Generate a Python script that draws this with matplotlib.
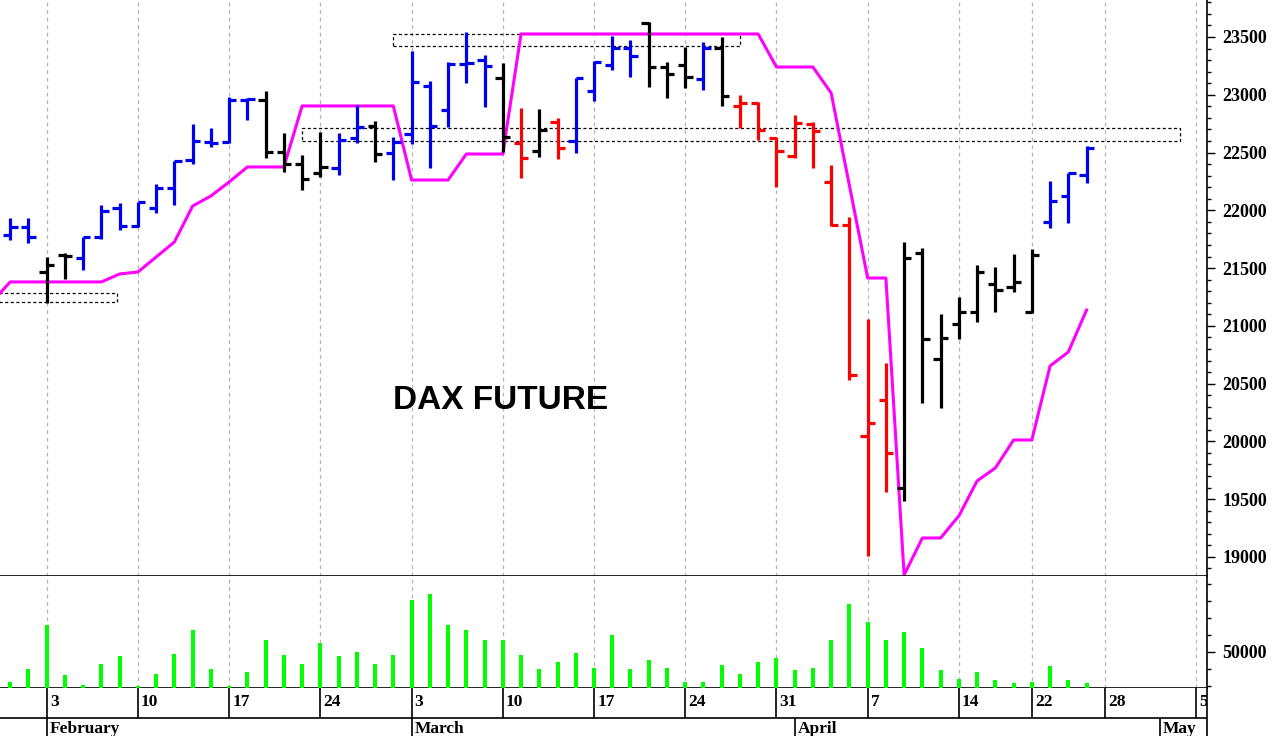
import matplotlib
matplotlib.use('Agg')
import matplotlib.pyplot as plt
from matplotlib.patches import Rectangle
from matplotlib.ticker import MultipleLocator, FixedLocator, FuncFormatter
import numpy as np

# daily bars, Jan 30 .. Apr 25 (trading days only)
opens = [21787, 21856, 21466, 21613, 21587, 21769, 22020, 21864, 22020, 22193,
         22436, 22591, 22591, 22955, 22955, 22505, 22401, 22323, 22366, 22626,
         22730, 22496, 22661, 23076, 22868, 23266, 23301, 23145, 22583, 22513,
         22764, 22600, 23033, 23258, 23405, 23621, 23240, 23258, 23137, 23405,
         22903, 22929, 22626, 22470, 22747, 22245, 21873, 20047, 20359, 19597,
         21631, 20713, 21016, 21120, 21362, 21337, 21120, 21899, 22124, 22306]
highs = [21934, 21934, 21596, 21631, 21769, 22046, 22063, 22072, 22228, 22427,
         22747, 22712, 22981, 22972, 23033, 22669, 22479, 22678, 22669, 22912,
         22773, 22635, 23379, 23119, 23284, 23543, 23344, 23275, 22886, 22877,
         22799, 23145, 23292, 23509, 23474, 23630, 23284, 23413, 23457, 23500,
         22998, 22937, 22635, 22825, 22764, 22392, 21942, 21060, 20679, 21726,
         21674, 21103, 21250, 21527, 21510, 21622, 21665, 22254, 22323, 22557]
lows = [21743, 21717, 21198, 21406, 21484, 21752, 21830, 21856, 21977, 22046,
        22401, 22548, 22583, 22782, 22453, 22332, 22176, 22288, 22306, 22583,
        22418, 22262, 22574, 22366, 22721, 23102, 22894, 22505, 22280, 22462,
        22445, 22496, 22946, 23214, 23154, 23067, 22972, 23059, 23041, 22903,
        22712, 22609, 22202, 22453, 22366, 21864, 20532, 19009, 19562, 19485,
        20333, 20289, 20886, 21034, 21120, 21293, 21111, 21847, 21890, 22237]
closes = [21856, 21769, 21527, 21605, 21765, 21994, 21864, 22072, 22193, 22427,
          22600, 22585, 22955, 22963, 22505, 22401, 22271, 22375, 22609, 22721,
          22487, 22591, 23111, 22730, 23266, 23275, 23249, 22635, 22453, 22695,
          22539, 23145, 23284, 23405, 23336, 23240, 23180, 23154, 23405, 22989,
          22929, 22695, 22513, 22756, 22687, 21873, 20575, 20160, 19900, 21587,
          20886, 20895, 21120, 21466, 21311, 21380, 21613, 22081, 22323, 22539]
bar_colors = list('bbkkbbbbbbbbbbkkkkbbkbbbbbbkrkrbbbbkkkbkrrrrrrrrrkkkkkkkkbbb')

volume = [32180, 40000, 65880, 36470, 30590, 43120, 47470, 29820, 37240, 49000,
          63120, 40000, 29820, 38060, 57230, 48240, 43120, 55290, 47470, 49820,
          43120, 48240, 80760, 84290, 65880, 62760, 56880, 57230, 48240, 40000,
          43940, 49410, 40760, 60000, 40000, 45470, 40760, 32180, 32180, 42350,
          37240, 44290, 46650, 39240, 40760, 56880, 78410, 67470, 56880, 61940,
          52530, 39240, 34120, 38060, 33350, 31760, 32180, 41590, 33350, 31760]

# magenta stop line, starts one day before the first bar
stop_line = [21207, 21380, 21380, 21380, 21380, 21380, 21380, 21449, 21466, 21596,
             21726, 22037, 22124, 22245, 22375, 22375, 22375, 22903, 22903, 22903,
             22903, 22903, 22903, 22262, 22262, 22262, 22487, 22487, 22487, 23526,
             23526, 23526, 23526, 23526, 23526, 23526, 23526, 23526, 23526, 23526,
             23526, 23526, 23526, 23240, 23240, 23240, 23015, 22215, 21414, 21414,
             18844, 19164, 19164, 19355, 19658, 19770, 20012, 20012, 20653, 20774,
             21137]

# dashed zones: (first day, last day, low, high)
zones = [(-1.0, 5.85, 21208, 21285),
         (21.0, 40.0, 23422, 23526),
         (16.0, 64.1, 22600, 22713)]

week_idx = [2, 7, 12, 17, 22, 27, 32, 37, 42, 47, 52, 56, 60, 65]
week_labels = ['3', '10', '17', '24', '3', '10', '17', '24', '31', '7', '14', '22', '28', '5']
month_idx = [2, 22, 43, 63]
month_labels = ['February', 'March', 'April', 'May']

color_map = {'b': '#0000f0', 'k': '#000000', 'r': '#ff0000'}
x = np.arange(len(opens))
xlim = (-0.56, 65.6)
serif = 'Liberation Serif'

fig = plt.figure(figsize=(12.76, 7.36), dpi=100)
ax = fig.add_axes([0, 0.21739, 0.9459, 0.78261])
axv = fig.add_axes([0, 0.06522, 0.9459, 0.15217])
axd = fig.add_axes([0, 0, 0.9459, 0.06522])

# price panel
cols = [color_map[c] for c in bar_colors]
ax.vlines(x, lows, highs, colors=cols, lw=2.3, capstyle='butt', zorder=3)
ax.hlines(opens, x - 0.4, x, colors=cols, lw=2.3, zorder=3)
ax.hlines(closes, x, x + 0.4, colors=cols, lw=2.3, zorder=3)
ax.plot(np.arange(-1, len(stop_line) - 1), stop_line, color='#ff00ff', lw=2.2, zorder=2)
for x0, x1, lo, hi in zones:
    ax.add_patch(Rectangle((x0, lo), x1 - x0, hi - lo, fill=False, ec='black',
                           lw=0.9, ls=(0, (2.5, 2)), zorder=1))
ax.text(26.9, 20355, 'DAX FUTURE', ha='center', va='center', fontsize=24,
        fontweight='bold', family='Liberation Sans')

ax.set_xlim(xlim)
ax.set_ylim(18835, 23820)
ax.yaxis.tick_right()
ax.yaxis.set_major_locator(MultipleLocator(500))
ax.yaxis.set_minor_locator(MultipleLocator(100))
ax.yaxis.set_major_formatter(FuncFormatter(lambda v, p: f'{v:.0f}'))
ax.tick_params(axis='y', which='major', length=6, width=1, pad=5)
ax.tick_params(axis='y', which='minor', length=3, width=1)
ax.set_xticks([])

# volume panel
axv.bar(x, volume, width=0.22, color='#00ff00', zorder=3)
axv.set_xlim(xlim)
axv.set_ylim(28825, 94700)
axv.yaxis.tick_right()
axv.yaxis.set_major_locator(FixedLocator([50000]))
axv.yaxis.set_minor_locator(MultipleLocator(10000))
axv.yaxis.set_major_formatter(FuncFormatter(lambda v, p: f'{v:.0f}'))
axv.tick_params(axis='y', which='major', length=6, width=1, pad=5)
axv.tick_params(axis='y', which='minor', length=3, width=1)
axv.set_xticks([])

for a in (ax, axv):
    for w in week_idx:
        a.axvline(w, color='#b4b4b4', lw=0.9, ls=(0, (3, 3)), zorder=0)
    a.spines['top'].set_visible(False)
    a.spines['left'].set_visible(False)
    a.spines['bottom'].set_linewidth(1.2)
    a.spines['right'].set_linewidth(1.2)
    for lab in a.get_yticklabels():
        lab.set_family(serif)
        lab.set_fontweight('bold')
        lab.set_fontsize(13)

# date rows
row = 0.365
axd.set_xlim(xlim)
axd.set_ylim(0, 1)
axd.axhline(row, color='black', lw=1.2)
axd.vlines(week_idx, row, 1, colors='black', lw=1.2)
axd.vlines(month_idx, 0, row, colors='black', lw=1.2)
for w, lab in zip(week_idx, week_labels):
    axd.text(w + 0.17, 0.7, lab, ha='left', va='center', fontsize=12.5,
             fontweight='bold', family=serif, clip_on=True)
for m, lab in zip(month_idx, month_labels):
    axd.text(m + 0.17, 0.15, lab, ha='left', va='center', fontsize=12.5,
             fontweight='bold', family=serif, clip_on=True)
axd.set_xticks([])
axd.set_yticks([])
for s in ('top', 'left', 'bottom'):
    axd.spines[s].set_visible(False)
axd.spines['right'].set_linewidth(1.2)

fig.savefig('out.png', dpi=100)
